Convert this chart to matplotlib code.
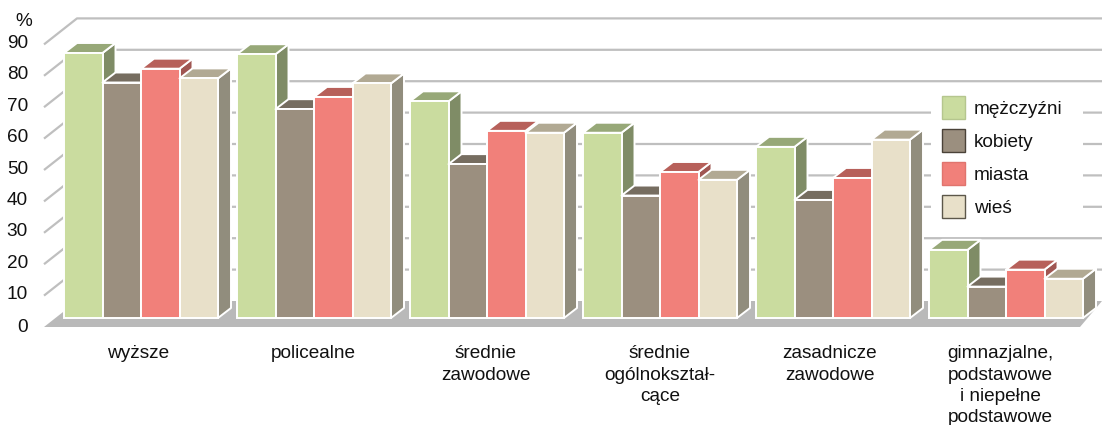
# wykres 3D-podobny: słupki z ukosem rysowane w zwykłych osiach 2D
import matplotlib
matplotlib.use("Agg")
import matplotlib.pyplot as plt
from matplotlib.patches import Polygon, Rectangle, Patch

plt.rcParams['font.family'] = ['Liberation Sans', 'DejaVu Sans']

categories = ["wyższe", "policealne", "średnie\nzawodowe", "średnie\nogólnokształ-\ncące",
              "zasadnicze\nzawodowe", "gimnazjalne,\npodstawowe\ni niepełne\npodstawowe"]
series_names = ["mężczyźni", "kobiety", "miasta", "wieś"]
mezczyzni = [84.4, 84, 69, 59, 54.5, 21.7]
kobiety = [75, 66.5, 49, 39, 37.6, 10]
miasta = [79.4, 70.4, 59.6, 46.5, 44.6, 15.4]
wies = [76.3, 74.7, 59, 44, 56.8, 12.5]
y_ticks = [0, 10, 20, 30, 40, 50, 60, 70, 80, 90]

front = ["#cadc9f", "#9b8f7f", "#f1807a", "#e8e0c9"]
top = ["#97a878", "#766d60", "#b7605a", "#b1a993"]
side = ["#7f8c66", "#70685c", "#a05652", "#918d7d"]
edge = ["#b5c68e", "#4a4238", "#e0746e", "#5c574a"]
grid_c = "#bfbfbf"
floor_c = "#b9b9b9"

# skala: x w pikselach, y w jednostkach wartości (0 = dół słupka, y=318 px)
PX = 3.14
FS = 13.7
fig = plt.figure(figsize=(11.02, 4.25), dpi=100)
ax = fig.add_axes([0, 0, 1, 1])
ax.set_xlim(0, 1102)
ax.set_ylim(-(425 - 318) / PX, 318 / PX)
ax.axis("off")

x_front, x_back = 44, 77
y_front = -9 / PX    # przednia krawędź podłogi
y_back = 17 / PX     # tylna ściana
bar_dx, bar_dy = 13, 10 / PX
bar_w = 38.5
group_x0, group_step = 64, 173
label_x = [138, 313.5, 486, 660, 830, 1000]  # środki podpisów nie są równo rozłożone

# podłoga i siatka
ax.add_patch(Polygon([(x_front, y_front), (x_back, y_back), (1102, y_back), (1080, y_front)],
                     fc=floor_c, ec="none", zorder=1))
for v in y_ticks[1:]:
    ax.plot([x_front, x_back, 1102], [y_front + v, y_back + v, y_back + v],
            color=grid_c, lw=1.6, zorder=1, solid_capstyle="butt")
    ax.text(28, y_front + v + 1 / PX, str(v), ha="right", va="center", fontsize=FS, color="#111111")
ax.text(28, y_front - 1 / PX, "0", ha="right", va="center", fontsize=FS, color="#111111")
ax.text(15, y_front + (327 - 22) / PX, "%", ha="left", va="center", fontsize=FS, color="#111111")

# tło legendy
ax.add_patch(Rectangle((931, 318 / PX - 232 / PX), 152, 146 / PX, fc="white", ec="none", zorder=2))

# słupki
all_series = [mezczyzni, kobiety, miasta, wies]
z = 3
for g in range(len(categories)):
    for s, values in enumerate(all_series):
        v = values[g]
        x = group_x0 + group_step * g + bar_w * s
        ax.add_patch(Polygon([(x + bar_w, 0), (x + bar_w + bar_dx, bar_dy),
                              (x + bar_w + bar_dx, v + bar_dy), (x + bar_w, v)],
                             fc=side[s], ec="white", lw=1.4, zorder=z, joinstyle="round"))
        ax.add_patch(Polygon([(x, v), (x + bar_dx, v + bar_dy),
                              (x + bar_w + bar_dx, v + bar_dy), (x + bar_w, v)],
                             fc=top[s], ec="white", lw=1.4, zorder=z, joinstyle="round"))
        ax.bar(x, v, bar_w, align="edge", color=front[s], edgecolor="white", linewidth=1.4, zorder=z)
        z += 1
    ax.text(label_x[g], -(345.5 - 318) / PX, categories[g], ha="center", va="top",
            fontsize=FS, color="#111111", linespacing=1.33)

handles = [Patch(fc=front[i], ec=edge[i], lw=1.0) for i in range(4)]
ax.legend(handles, series_names, loc="upper left", bbox_to_anchor=(942, (318 - 96) / PX),
          bbox_transform=ax.transData, borderaxespad=0, borderpad=0, frameon=False,
          fontsize=FS, handlelength=1.21, handleheight=1.45, handletextpad=0.45,
          labelspacing=0.55, labelcolor="#111111").set_zorder(200)

fig.savefig("out.png", dpi=100)
